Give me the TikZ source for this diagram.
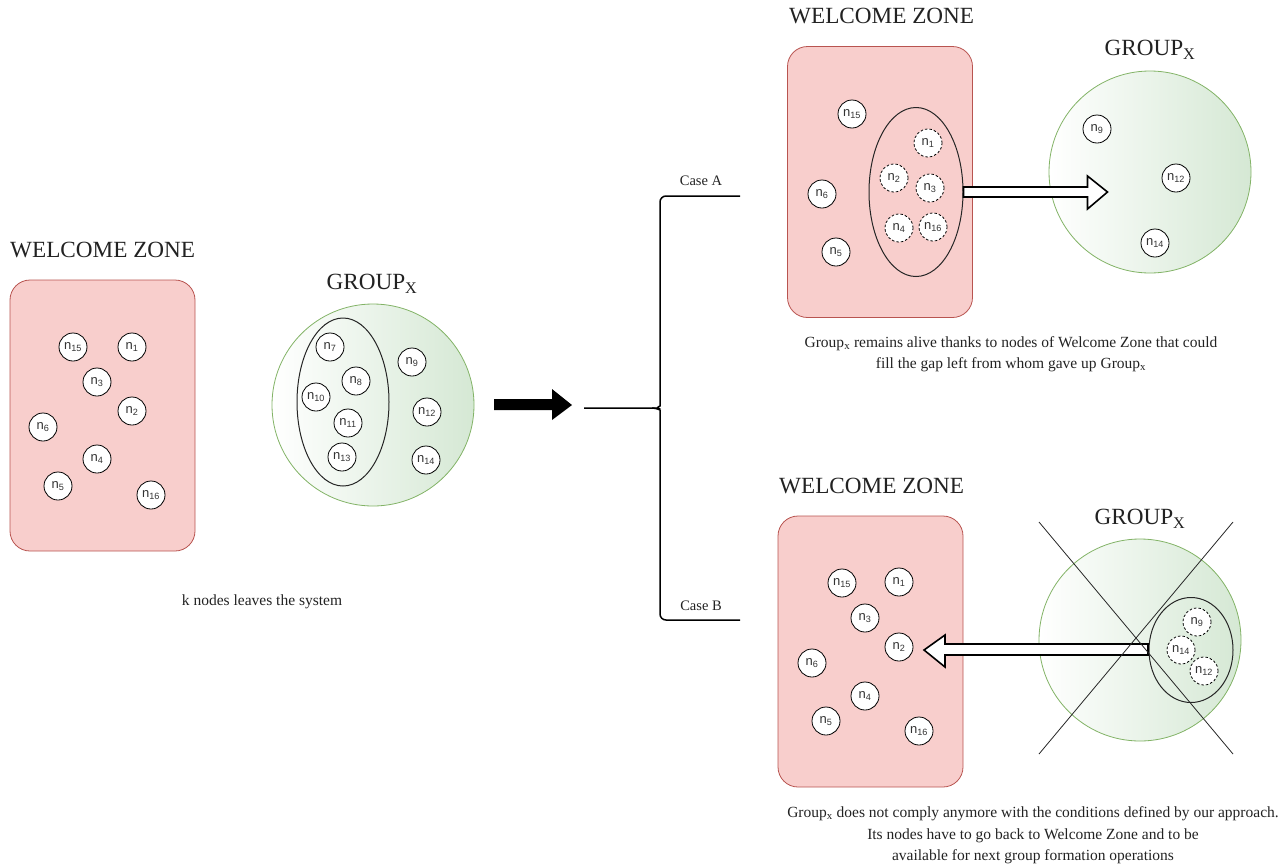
\documentclass[tikz,border=0pt]{standalone}
\usepackage{fontspec}
\setmainfont{Liberation Serif}
\setsansfont{Liberation Sans}
\usetikzlibrary{calc,shapes.geometric}
\definecolor{pinkfill}{HTML}{F8CECC}
\definecolor{pinkdraw}{HTML}{B85450}
\definecolor{greenfill}{HTML}{D5E8D4}
\definecolor{greendraw}{HTML}{82B366}
\definecolor{txt}{HTML}{222222}
\begin{document}
\begin{tikzpicture}[x=1pt,y=-1pt,
  zone/.style={draw=pinkdraw, fill=pinkfill, rounded corners=20pt, minimum width=185pt, minimum height=271pt, line width=0.8pt, inner sep=0pt},
  grp/.style={circle, draw=greendraw, left color=white, right color=greenfill, minimum size=202pt, inner sep=0pt, line width=0.8pt},
  nd/.style={circle, draw=black, fill=white, minimum size=28pt, inner sep=0pt, line width=0.8pt, font=\sffamily\fontsize{13}{13}\selectfont, text=black!80},
  dnd/.style={nd, dash pattern=on 2.5pt off 2pt},
  sel/.style={ellipse, draw=black!85, line width=1pt, inner sep=0pt},
  title/.style={font=\fontsize{23.2}{27}\selectfont, text=txt, inner sep=0pt},
  captxt/.style={font=\fontsize{15.5}{21}\selectfont, text=txt, inner sep=0pt, align=center},
  hollow/.style={draw=black, fill=white, line width=1.6pt, line join=miter}
]
\useasboundingbox (0,0) rectangle (1287,865);

% ---------------- left panel ----------------
\node[title, anchor=west] (t1) at (10,250) {WELCOME ZONE};
\node[zone] (wz1) at (102.5,415.5) {};
\node[nd] (a15) at (73,347) {n\textsubscript{15}};
\node[nd] (a1) at (132,347) {n\textsubscript{1}};
\node[nd] (a3) at (97,382) {n\textsubscript{3}};
\node[nd] (a2) at (132,411) {n\textsubscript{2}};
\node[nd] (a6) at (43,427) {n\textsubscript{6}};
\node[nd] (a4) at (97,459) {n\textsubscript{4}};
\node[nd] (a5) at (58,486) {n\textsubscript{5}};
\node[nd] (a16) at (151,495) {n\textsubscript{16}};

\node[title] (g1t) at (372,284) {GROUP\textsubscript{X}};
\node[grp] (g1) at (373,405) {};
\node[sel, minimum width=92pt, minimum height=168pt] (e1) at (343,402) {};
\node[nd] (a7) at (330,347) {n\textsubscript{7}};
\node[nd] (a8) at (356,381) {n\textsubscript{8}};
\node[nd] (a10) at (316,397) {n\textsubscript{10}};
\node[nd] (a11) at (348,423) {n\textsubscript{11}};
\node[nd] (a13) at (342,457) {n\textsubscript{13}};
\node[nd] (a9) at (412,362) {n\textsubscript{9}};
\node[nd] (a12) at (427,412) {n\textsubscript{12}};
\node[nd] (a14) at (426,460) {n\textsubscript{14}};

\node[captxt] (c1) at (262,602) {k nodes leaves the system};

% ---------------- black arrow and brace ----------------
\coordinate (ba) at (494,405);
\fill[black] ($(ba)+(0,-6)$) -- ++(58,0) -- ++(0,-10) -- ($(ba)+(78,0)$) -- ++(-20,15) -- ++(0,-10) -- ++(-58,0) -- cycle;

\coordinate (bin) at (584,408);
\coordinate (bmid) at (652,408);
\coordinate (ca) at (740,196);
\coordinate (cb) at (740,620);
\draw[line width=1.5pt, rounded corners=6pt] (ca) -- (660,196) -- (660,400) .. controls (660,406) and (656,408) .. (bmid) -- (bin);
\draw[line width=1.5pt, rounded corners=6pt] (bmid) .. controls (656,408) and (660,410) .. (660,416) -- (660,620) -- (cb);
\node[captxt, font=\fontsize{14.5}{16}\selectfont] (lA) at (701,181) {Case A};
\node[captxt, font=\fontsize{14.5}{16}\selectfont] (lB) at (701,606) {Case B};

% ---------------- case A ----------------
\node[title, anchor=west] (t2) at (789,16) {WELCOME ZONE};
\node[zone] (wz2) at (880,182) {};
\node[nd] (b15) at (852,114) {n\textsubscript{15}};
\node[nd] (b6) at (822,194) {n\textsubscript{6}};
\node[nd] (b5) at (836,252) {n\textsubscript{5}};
\node[sel, minimum width=94pt, minimum height=169pt] (e2) at (916,192) {};
\node[dnd] (b1) at (928,143) {n\textsubscript{1}};
\node[dnd] (b2) at (894,178) {n\textsubscript{2}};
\node[dnd] (b3) at (930,188) {n\textsubscript{3}};
\node[dnd] (b4) at (899,228) {n\textsubscript{4}};
\node[dnd] (b16) at (933,227) {n\textsubscript{16}};

\node[title] (g2t) at (1150,50) {GROUP\textsubscript{X}};
\node[grp] (g2) at (1150,172) {};
\node[nd] (b9) at (1097,129) {n\textsubscript{9}};
\node[nd] (b12) at (1176,178) {n\textsubscript{12}};
\node[nd] (b14) at (1155,243) {n\textsubscript{14}};

\draw[hollow] ($(e2.east)+(0,-5)$) -- ++(124,0) -- ++(0,-11) -- ($(e2.east)+(144,0)$) -- ++(-20,17) -- ++(0,-12) -- ++(-124,0) -- cycle;

\node[captxt] (c2) at (1011,354) {Group\textsubscript{x} remains alive thanks to nodes of Welcome Zone that could\\fill the gap left from whom gave up Group\textsubscript{x}};

% ---------------- case B ----------------
\node[title, anchor=west] (t3) at (779,486) {WELCOME ZONE};
\node[zone] (wz3) at (870.5,651.5) {};
\node[nd] (d15) at (842,583) {n\textsubscript{15}};
\node[nd] (d1) at (899,582) {n\textsubscript{1}};
\node[nd] (d3) at (865,618) {n\textsubscript{3}};
\node[nd] (d2) at (899,647) {n\textsubscript{2}};
\node[nd] (d6) at (812,663) {n\textsubscript{6}};
\node[nd] (d4) at (865,696) {n\textsubscript{4}};
\node[nd] (d5) at (826,721) {n\textsubscript{5}};
\node[nd] (d16) at (919,731) {n\textsubscript{16}};

\node[title] (g3t) at (1140,519) {GROUP\textsubscript{X}};
\node[grp] (g3) at (1140,640) {};
\node[sel, minimum width=84pt, minimum height=105pt] (e3) at (1191,650) {};
\node[dnd] (d9) at (1197,622) {n\textsubscript{9}};
\node[dnd] (d14) at (1181,650) {n\textsubscript{14}};
\node[dnd] (d12) at (1204,671) {n\textsubscript{12}};

\coordinate (tl) at (1148,650);
\draw[hollow] ($(tl)+(0,-6)$) -- ++(-203,0) -- ++(0,-9) -- ($(tl)+(-224,0)$) -- ++(21,17) -- ++(0,-12) -- ++(203,0) -- cycle;

\coordinate (x1) at (1039,522);
\coordinate (x2) at (1233,754);
\coordinate (x3) at (1233,522);
\coordinate (x4) at (1039,754);
\draw[black!85, line width=0.8pt] (x1) -- (x2);
\draw[black!85, line width=0.8pt] (x3) -- (x4);

\node[captxt] (c3) at (1033,835) {Group\textsubscript{x} does not comply anymore with the conditions defined by our approach.\\[1pt]Its nodes have to go back to Welcome Zone and to be\\available for next group formation operations};
\end{tikzpicture}
\end{document}
